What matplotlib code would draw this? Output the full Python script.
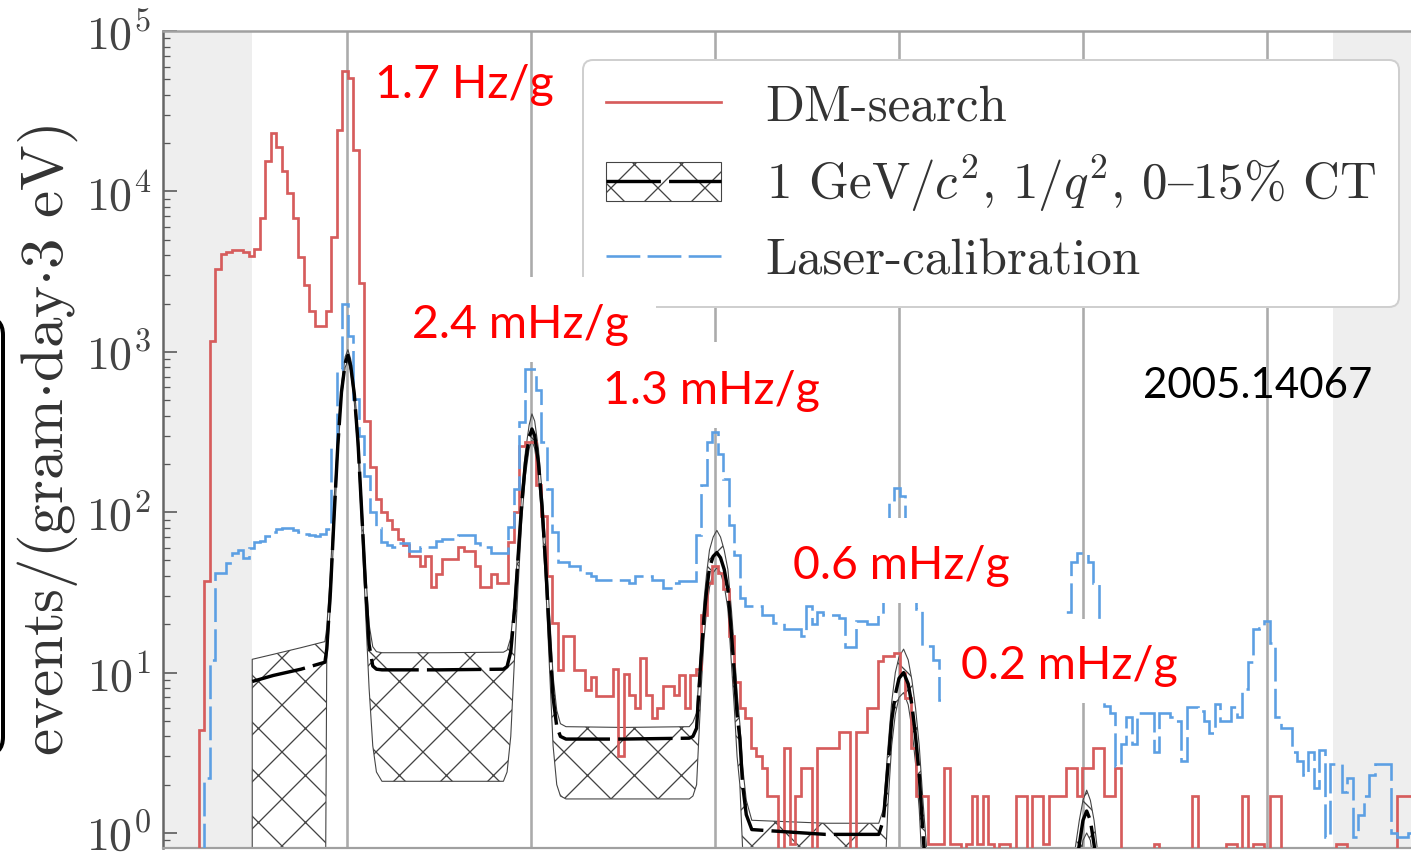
import numpy as np
import matplotlib
matplotlib.use("Agg")
import matplotlib.pyplot as plt
from matplotlib.lines import Line2D
from matplotlib.patches import Rectangle, FancyBboxPatch
from matplotlib.transforms import Affine2D

W, H = 1411, 856
DPI = 141   # 'x' hatch repeats every dpi/3 px, which matches the original


def P(v):
    # size in output pixels -> points
    return v * 72.0 / DPI


plt.rcParams['font.family'] = ['cmr10', 'DejaVu Serif']
plt.rcParams['mathtext.fontset'] = 'cm'
plt.rcParams['axes.formatter.use_mathtext'] = True
plt.rcParams['hatch.linewidth'] = P(1.3)

# ---- histograms, 3 eV bins centred on 18, 21, 24 ... eV ----
first_center = 18.0
bin_width = 3.0

dm_search = [
    0, 4.4, 37, 1170, 3300, 4100, 4200, 4300, 4300, 4200,
    3950, 4400, 6800, 15500, 23000, 19000, 13400, 9800, 6800, 3900,
    2600, 1800, 1450, 1450, 1800, 5200, 24000, 56000, 51000, 18000,
    2700, 370, 190, 120, 100, 90, 78, 68, 62, 53,
    53, 46, 53, 34, 41, 51, 51, 51, 61, 57,
    57, 46, 34, 34, 41, 36, 36, 65, 100, 260,
    275, 275, 147, 95, 40, 20.5, 10.4, 17, 17, 10.4,
    10.4, 7.8, 9.4, 7.1, 7.1, 7.1, 10.6, 3.0, 9.8, 7.2,
    6.0, 12.3, 7.2, 5.2, 6.0, 8.3, 8.3, 7.2, 9.6, 6.0,
    9.6, 10.6, 22.7, 36, 46, 42, 33, 17, 8.7, 6.0,
    5.2, 3.4, 3.0, 2.55, 1.7, 1.7, 0, 3.4, 0.85, 1.7,
    2.55, 2.55, 0, 3.4, 3.4, 3.4, 3.4, 4.25, 4.25, 0,
    4.25, 4.25, 6.0, 6.0, 11.8, 12.7, 12.7, 13.3, 10, 6.9,
    3.4, 1.7, 1.7, 0.85, 0.85, 0.85, 2.55, 0.85, 0.85, 0,
    0.85, 1.7, 0.85, 1.7, 0.85, 0, 0.85, 0.85, 0, 1.7,
    1.7, 0, 1.7, 1.7, 0.85, 1.7, 1.7, 1.7, 2.55, 2.55,
    1.7, 2.55, 2.55, 3.4, 3.4, 1.7, 1.7, 2.55, 0, 0,
    0, 0, 0, 0, 0.85, 0, 0, 0, 0, 0,
    0, 1.7, 0, 0, 0, 0, 0, 0.85, 0.85, 0,
    1.7, 0, 0.85, 0.85, 0, 1.7, 1.7, 0, 0, 0,
    0, 0, 0, 0, 0, 0, 0, 0.85, 0.85, 0,
    0, 0, 0, 0, 0, 0, 0, 0, 1.7, 1.7,
    1.7,
]

laser_cal = [
    0, 0, 2.2, 12, 42, 42, 48, 56, 58, 52,
    60, 65, 66, 71, 75, 78, 80, 80, 77, 75,
    73, 72, 71, 73, 78, 250, 780, 2000, 1250, 510,
    300, 168, 100, 80, 65, 62, 61, 64, 64, 57,
    57, 61, 61, 61, 66, 68, 68, 68, 72, 72,
    72, 64, 61, 61, 56, 56, 56, 81, 139, 366,
    780, 780, 580, 275, 139, 75, 49, 49, 46, 46,
    42, 42, 40, 38, 38, 38, 38, 38, 38, 36,
    40, 40, 40, 38, 38, 33.5, 33.5, 36, 37, 37,
    37, 72, 147, 275, 316, 230, 160, 83, 54, 29,
    26, 26, 26, 22.7, 22.7, 20.5, 20.5, 18.6, 18.6, 18.6,
    17, 26, 20, 24, 23, 23, 23, 22, 14.5, 14.5,
    21, 21, 20, 20, 23, 29, 115, 141, 126, 55,
    35, 25, 14.7, 14.7, 12, 6.7, 8, 9, 7.5, 8,
    10, 9, 8, 9, 10, 8, 9, 11, 9, 10,
    8, 9, 10, 11, 9, 10, 12, 14, 23.7, 49,
    56, 56, 49, 36, 14, 6.2, 5.6, 2.6, 3.6, 5.3,
    3.6, 5.6, 5.6, 5.6, 3.2, 5.6, 5.6, 5.3, 5.0, 2.8,
    6.1, 6.1, 5.8, 5.0, 4.2, 6.4, 5.0, 5.0, 6.1, 5.3,
    7.9, 11.6, 18.8, 19, 21, 15.4, 5.3, 4.5, 4.5, 3.2,
    2.8, 2.3, 3.2, 1.9, 3.3, 0.95, 2.7, 2.7, 1.8, 2.2,
    0.95, 1.3, 1.7, 2.3, 2.7, 2.7, 2.7, 1.0, 0.95, 0.95,
    1.0,
]

# ---- 1 GeV/c^2 signal model: median and 0-15% CT band ----
model_e = [48.5, 60, 75, 88, 89, 91, 93, 95, 97, 99,
           100.5, 102, 104, 106, 108, 110, 112, 114, 116, 119,
           150, 185, 187, 189, 191, 193, 195, 197, 199, 200.5,
           202, 204, 206, 208, 210, 212, 214, 216, 219, 250,
           286, 288, 290, 291, 292.5, 294, 295.5, 297, 299, 301,
           303, 305, 307, 309, 310.5, 312, 313.5, 315, 317, 320,
           360, 389, 391.5, 394, 396, 398, 400, 402.5, 405, 407,
           409, 411, 413, 415, 420, 490, 495, 498, 500, 502,
           504, 506, 509, 515]
model_mid = [8.8, 9.6, 10.5, 11.6, 14, 32, 95, 260, 560, 850,
             950, 820, 540, 270, 100, 36, 15, 11, 10.5, 10.4,
             10.4, 10.5, 10.9, 13.5, 24, 53, 115, 205, 292, 330,
             300, 205, 108, 46, 17, 7, 4.6, 4.0, 3.85, 3.85,
             3.9, 4.0, 4.5, 7, 12.7, 22, 33, 45, 53, 56,
             52, 44, 33, 17, 10, 5.5, 3.9, 2.0, 1.3, 1.05,
             0.98, 0.98, 1.2, 2.6, 5.0, 7.3, 9.2, 10, 8.5, 6.3,
             4.0, 2.3, 1.0, 0.5, 0.3, 0.3, 0.5, 0.85, 1.2, 1.37,
             1.2, 0.85, 0.45, 0.3]
band_lo = [0.1, 0.1, 0.1, 0.1, 12, 26, 80, 230, 520, 800,
           880, 760, 480, 230, 80, 25, 8, 3.5, 2.4, 2.1,
           2.1, 2.1, 2.4, 4, 12, 35, 90, 170, 250, 280,
           250, 170, 85, 35, 11, 3.5, 2.0, 1.7, 1.63, 1.63,
           1.63, 1.7, 2.0, 3.5, 8, 16, 25, 34, 42, 45,
           42, 35, 25, 11, 6, 3, 2, 0.8, 0.4, 0.2,
           0.15, 0.15, 0.3, 1.5, 3.5, 5.5, 7, 7.5, 6.3, 4.5,
           2.7, 1.4, 0.5, 0.2, 0.1, 0.1, 0.3, 0.6, 0.9, 1.0,
           0.9, 0.6, 0.3, 0.1]
band_hi = [12.1, 13.0, 14.3, 15.6, 19, 42, 120, 300, 620, 930,
           1030, 900, 600, 310, 120, 45, 20, 14.5, 13.5, 13.3,
           13.3, 13.4, 13.8, 16.5, 29, 62, 135, 240, 350, 410,
           370, 250, 135, 60, 24, 9.5, 5.8, 4.8, 4.6, 4.55,
           4.6, 4.9, 5.6, 8.5, 15.5, 28, 42, 58, 70, 77,
           70, 58, 44, 24, 14, 7.5, 4.8, 2.6, 1.6, 1.2,
           1.15, 1.15, 1.4, 3.4, 6.5, 10, 12.5, 14, 12, 9,
           6, 3.5, 1.6, 0.8, 0.45, 0.45, 0.7, 1.2, 1.6, 1.85,
           1.6, 1.2, 0.6, 0.4]

peak_lines = [100, 200, 300, 400, 500, 600]     # n e-h pair positions (eV)
excluded = [(0, 48.5), (636, 700)]               # shaded energy ranges

legend_labels = ['DM-search',
                 '1 GeV/$c^2$, 1/$q^2$, 0{15% CT',   # '{' is the en dash in cmr10
                 'Laser-calibration']

red = '#d65c5c'
blue = '#5c9fe3'

fig = plt.figure(figsize=(W / DPI, H / DPI), dpi=DPI)
ax = fig.add_axes([163 / W, 8 / H, 1288 / W, 817 / H])
ax.set_xlim(0, 700)
ax.set_yscale('log')
ax.set_ylim(0.806, 1e5)

for lo, hi in excluded:
    ax.axvspan(lo, hi, color='#eeeeee', lw=0, zorder=0)
for e in peak_lines:
    ax.axvline(e, color='#ababab', lw=P(2.6), zorder=1)

n = len(dm_search)
edges = first_center - bin_width / 2 + bin_width * np.arange(n + 1)
dm = np.array(dm_search, float)
la = np.array(laser_cal, float)
ax.stairs(np.where(dm > 0, dm, 0.05), edges, baseline=None, color=red,
          lw=P(2.7), zorder=3)

band = ax.fill_between(model_e, band_lo, band_hi, facecolor='none',
                       edgecolor='#444444', hatch='x', lw=P(1.1), zorder=2)
ax.stairs(np.where(la > 0, la, 0.05), edges, baseline=None, color=blue,
          lw=P(2.6), ls=(0, (13.0, 2.8)), zorder=3)
mid_line, = ax.plot(model_e, model_mid, color='black', lw=P(3.4),
                    ls=(0, (16.0, 2.4)), zorder=4)

# axes styling
ax.spines['right'].set_visible(False)
ax.spines['left'].set_color('#666666')
ax.spines['left'].set_linewidth(P(2.5))
ax.spines['top'].set_color('#a0a0a0')
ax.spines['top'].set_linewidth(P(2.5))
ax.spines['bottom'].set_color('#a0a0a0')
ax.spines['bottom'].set_linewidth(P(2.2))
ax.tick_params(axis='x', which='both', bottom=False, top=False, labelbottom=False)
ax.tick_params(axis='y', which='major', direction='in', length=P(14), width=P(1.6),
               color='#555555', labelsize=P(46), labelcolor='#444444', pad=P(12))
ax.tick_params(axis='y', which='minor', direction='in', length=P(7), width=P(1.3),
               color='#555555')

# legend
red_h = Line2D([], [], color=red, lw=P(2.7))
blue_h = Line2D([], [], color=blue, lw=P(2.6), ls=(0, (13.0, 2.8)))
leg = ax.legend([red_h, (band, mid_line), blue_h], legend_labels,
                loc='upper left', bbox_to_anchor=(583 / W, 1 - 60 / H),
                bbox_transform=fig.transFigure, borderaxespad=0,
                fontsize=P(51), handlelength=2.25, handleheight=0.8,
                handletextpad=0.88, labelspacing=0.45, borderpad=0.45,
                frameon=True, fancybox=True, framealpha=1.0)
leg.get_frame().set_edgecolor('#cfcfcf')
leg.get_frame().set_linewidth(P(2))
for t in leg.get_texts():
    t.set_color('#333333')

fig.text(48 / W, 1 - 440 / H, r'events/(gram$\cdot$day$\cdot$3 eV)', rotation=90,
         ha='center', va='center', fontsize=P(61), color='#333333')

# annotations pasted on top of the plot
pxT = Affine2D().scale(1.0 / W, 1.0 / H) + fig.transFigure
boxes = [(395, 277, 656, 362), (590, 342, 840, 428),
         (782, 518, 1028, 603), (941, 619, 1211, 703)]
for x0, y0, x1, y1 in boxes:
    fig.add_artist(Rectangle((x0, H - y1), x1 - x0, y1 - y0, transform=pxT,
                             facecolor='white', edgecolor='none', zorder=5))

notes = [('1.7 Hz/g', 375, 98, 'red'), ('2.4 mHz/g', 412, 338, 'red'),
         ('1.3 mHz/g', 603, 404, 'red'), ('0.6 mHz/g', 793, 579, 'red'),
         ('0.2 mHz/g', 961, 679, 'red'), ('2005.14067', 1143, 398, 'black')]
for txt, x, y, c in notes:
    size = 46.5 if c == 'red' else 42
    fig.text(x / W, 1 - y / H, txt, ha='left', va='baseline', color=c,
             fontsize=P(size), family='Lato', zorder=6)

fig.add_artist(FancyBboxPatch((-60, H - 755), 63, 755 - 317, transform=pxT,
                              boxstyle='round,pad=0,rounding_size=18',
                              facecolor='none', edgecolor='black', lw=P(4), zorder=6))

fig.savefig('out.png', dpi=DPI)
